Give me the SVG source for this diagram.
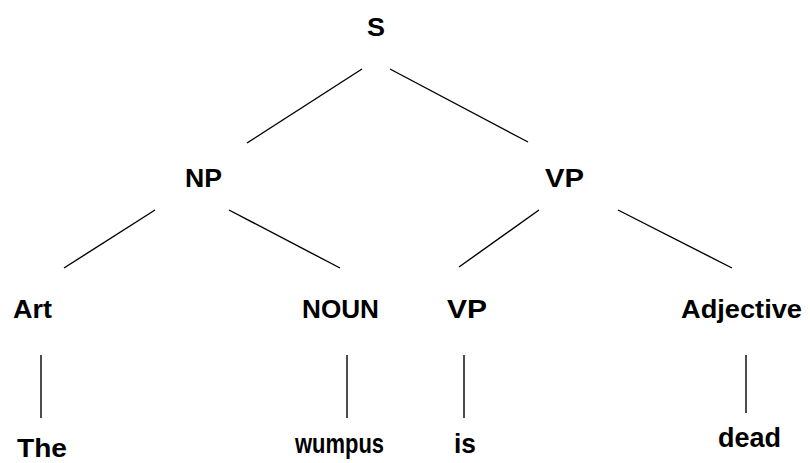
<svg xmlns="http://www.w3.org/2000/svg" width="810" height="463" viewBox="0 0 810 463">
<style>
text{font-family:"Liberation Sans",Arial,sans-serif;font-weight:bold;font-size:26px;fill:#000}
.lc{font-size:28px}
.e line{stroke:#000;stroke-width:1.4}
</style>
<rect width="810" height="463" fill="#fff"/>
<g class="e" id="connectors">
<line x1="362" y1="69" x2="247" y2="143"/>
<line x1="390" y1="69" x2="528" y2="142"/>
<line x1="155" y1="210" x2="64" y2="268"/>
<line x1="229" y1="210" x2="340" y2="268"/>
<line x1="539" y1="210" x2="459" y2="267"/>
<line x1="618" y1="210" x2="732" y2="268"/>
<line x1="41" y1="355" x2="41" y2="418"/>
<line x1="347" y1="355" x2="347" y2="418"/>
<line x1="464" y1="355" x2="464" y2="418"/>
<line x1="746" y1="355" x2="746" y2="413"/>
</g>
<g id="S"><text x="367" y="36" textLength="18" lengthAdjust="spacingAndGlyphs">S</text></g>
<g id="NP"><text x="185" y="187" textLength="37" lengthAdjust="spacingAndGlyphs">NP</text></g>
<g id="VP1"><text x="545" y="187" textLength="39" lengthAdjust="spacingAndGlyphs">VP</text></g>
<g id="Art"><text x="13" y="318" textLength="39" lengthAdjust="spacingAndGlyphs">Art</text></g>
<g id="NOUN"><text x="302" y="318" textLength="77" lengthAdjust="spacingAndGlyphs">NOUN</text></g>
<g id="VP2"><text x="447" y="318" textLength="40" lengthAdjust="spacingAndGlyphs">VP</text></g>
<g id="Adjective"><text x="681" y="318" textLength="121" lengthAdjust="spacingAndGlyphs">Adjective</text></g>
<g id="The"><text x="17" y="457" textLength="50" lengthAdjust="spacingAndGlyphs">The</text></g>
<g id="wumpus"><text class="lc" x="295" y="453" textLength="89" lengthAdjust="spacingAndGlyphs">wumpus</text></g>
<g id="is"><text class="lc" x="454" y="453" textLength="22" lengthAdjust="spacingAndGlyphs">is</text></g>
<g id="dead"><text class="lc" x="718" y="447" textLength="63" lengthAdjust="spacingAndGlyphs">dead</text></g>
</svg>
